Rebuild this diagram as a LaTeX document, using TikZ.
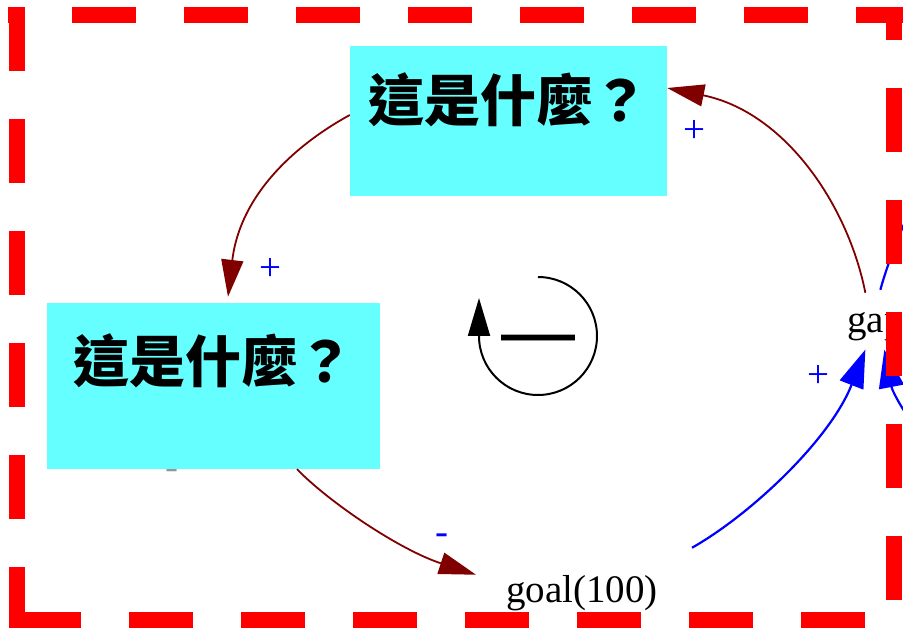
\documentclass[tikz,border=0pt]{standalone}
\usepackage{fontspec}
\setmainfont{Liberation Serif}
\newfontfamily\cjk{Noto Sans CJK TC}
\newfontfamily\djv{DejaVu Sans}
\usetikzlibrary{arrows.meta}
\definecolor{boxcyan}{RGB}{102,255,255}
\definecolor{edgered}{RGB}{128,0,0}
\definecolor{lblgray}{RGB}{150,150,150}
\begin{document}
\begin{tikzpicture}[x=1pt,y=-1pt,
  cbox/.style={fill=boxcyan, draw=none, minimum width=317pt, minimum height=150pt, inner sep=0pt},
  cjktext/.style={font=\cjk\bfseries\fontsize{56}{60}\selectfont, inner sep=0pt},
  vartext/.style={font=\fontsize{39}{40}\selectfont, inner sep=0pt, anchor=base west},
  lbl/.style={text=blue, font=\fontsize{39}{40}\selectfont, inner sep=0pt, anchor=base},
  redge/.style={draw=edgered, line width=1.8pt, -{Triangle[length=37pt,width=22pt]}},
  bedge/.style={draw=blue, line width=2.2pt, -{Triangle[length=38pt,width=25pt]}},
  bline/.style={draw=blue, line width=2.2pt},
  border/.style={draw=red, line width=16pt, dash pattern=on 64pt off 48pt}
]
\useasboundingbox (0,0) rectangle (903,628);
\clip (0,0) rectangle (903,628);

% hidden label under box
\node[lbl, text=lblgray] (lblg) at (172,479) {-};

% boxes
\node[cbox] (topbox) at (508.5,121) {};
\node[cjktext] (toplbl) at ([yshift=21pt]topbox.center) {這是什麼？};
\node[cbox, minimum width=333pt, minimum height=166pt] (leftbox) at (213.5,386) {};
\node[cjktext] (leftlbl) at ([yshift=25pt]leftbox.center) {這是什麼？};

% variables
\node[vartext] (goal) at (506,602) {goal(100)};
\node[vartext] (gap) at (847,333) {gap};

% off-canvas coordinates
\coordinate (offA) at (940,150);
\coordinate (offB) at (950,470);

% edges
\draw[redge] ([yshift=6pt]topbox.west) .. controls (295,145) and (240,195) .. ([xshift=14.5pt,yshift=6pt]leftbox.north);
\draw[redge] ([xshift=83.5pt]leftbox.south) .. controls (330,503) and (400,550) .. ([xshift=-30pt]goal.north west);
\draw[redge] ([xshift=-10pt,yshift=20pt]gap.north) .. controls (848,205) and (785,112) .. ([yshift=33pt]topbox.east);
\draw[bedge] ([xshift=34pt,yshift=27pt]goal.north east) .. controls (750,515) and (830,440) .. ([xshift=-10pt,yshift=-8pt]gap.south);
\draw[bline] ([xshift=5pt,yshift=23pt]gap.north) .. controls (888,262) and (905,215) .. (offA);
\draw[bedge] (offB) .. controls (920,440) and (893,395) .. ([xshift=9pt,yshift=-8pt]gap.south);

% labels
\node[lbl] (l1) at (694,143) {+};
\node[lbl] (l2) at (270,281) {+};
\node[lbl] (l3) at (442,544) {-};
\node[lbl] (l4) at (818,388) {+};

% loop symbol
\coordinate (loopc) at (538,336);
\draw[line width=2pt, -{Triangle[length=38pt,width=22pt]}] ([shift={(0pt,59pt)}]loopc) arc[start angle=90, end angle=-180, radius=59pt] -- ++(0pt,38pt);
\node[font=\djv\fontsize{82}{86}\selectfont, inner sep=0pt, anchor=base] (sign) at (538,361) {—};

% red dashed frame
\draw[border, dash phase=48pt] (8,15) -- (903,15);
\draw[border, dash phase=31pt] (894,7) -- (894,628);
\draw[border, dash phase=104pt] (9,620) -- (903,620);
\draw[border, dash phase=0pt] (16.5,7) -- (16.5,628);
\end{tikzpicture}
\end{document}
